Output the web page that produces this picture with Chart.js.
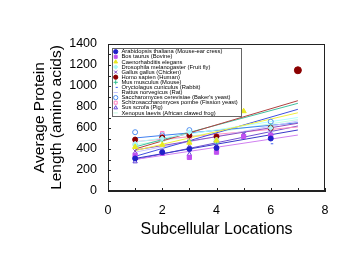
<!DOCTYPE html>
<html>
<head>
<meta charset="utf-8">
<script src="https://cdn.jsdelivr.net/npm/chart.js@4/dist/chart.umd.min.js"></script>
<style>
html,body{margin:0;padding:0;background:#fff;}
#wrap{width:358px;height:277px;position:relative;}
</style>
</head>
<body>
<div id="wrap"><canvas id="c" width="358" height="277"></canvas></div>
<script>
// ---- data ----
const xLocations = [1, 2, 3, 4, 5, 6, 7];
const speciesNames = [
  'Arabidopsis thaliana (Mouse-ear cress)',
  'Bos taurus (Bovine)',
  'Caenorhabditis elegans',
  'Drosophila melanogaster (Fruit fly)',
  'Gallus gallus (Chicken)',
  'Homo sapien (Human)',
  'Mus musculus (Mouse)',
  'Oryctolagus cuniculus (Rabbit)',
  'Rattus norvegicus (Rat)',
  "Saccharomyces cerevisiae (Baker's yeast)",
  'Schizosaccharomyces pombe (Fission yeast)',
  'Sus scrofa (Pig)',
  'Xenopus laevis (African clawed frog)'
];
const arabidopsis   = [310, 370, 400, 410, null, 500, null];
const bosTaurus     = [340, 360, 320, 370, 520, 530, null];
const cElegans      = [420, 440, 460, 480, 760, null, null];
const drosophila    = [450, 500, 560, 490, null, 600, null];
const gallus        = [380, 380, 440, 430, 540, 560, null];
const homoSapien    = [490, 510, 530, 520, null, 600, 1150];
const musMusculus   = [440, 490, 480, 470, 520, 620, 1150];
const oryctolagus   = [300, 370, 420, 410, 560, 450, null];
const rattus        = [360, 400, 410, 380, 500, 560, null];
const saccharomyces = [560, 530, 580, 470, null, 660, null];
const schizo        = [470, 550, 510, 500, null, 600, null];
const susScrofa     = [280, 370, 350, 430, 530, 590, null];
const xenopus       = [430, 470, 490, 460, null, 570, null];
const seriesValues = [arabidopsis, bosTaurus, cElegans, drosophila, gallus, homoSapien,
  musMusculus, oryctolagus, rattus, saccharomyces, schizo, susScrofa, xenopus];
// fitted trend lines, value at x=1 and at x=7
const fitX = [1, 7];
const fitAtX1 = [310, 300, 385, 465, 390, 400, 420, 330, 370, 505, 470, 300, 440];
const fitAtX7 = [581, 533, 745, 700, 645, 860, 835, 778, 667, 650, 610, 619, 680];
const yTickLabels = [0, 200, 400, 600, 800, 1000, 1200, 1400];
const xTickLabels = [0, 2, 4, 6, 8];

// ---- styles ----
const colors = ['#2020c8', '#c050f0', '#e8e820', '#a8f8f8', '#8040c0', '#8b0000',
  '#30c090', '#4060f0', '#c4c4ff', '#5090f0', '#ff80c0', '#6040d8', '#c0f8e0'];
const lineColors = ['#3838c8', '#d080f0', '#f0f040', '#b0ffff', '#9050c0', '#b04040',
  '#40c0a0', '#4050e0', '#c8c8ff', '#4080f0', '#ff90c0', '#7050d0', '#c0ffe0'];
const styles = ['circle', 'rect', 'triangle', 'rectRot', 'crossRot', 'circle', 'cross',
  'dash', 'line', 'circle', 'rect', 'triangle', 'line'];
const filled = [true, true, true, true, false, true, false, false, false, false, false, false, false];
const radii = [2.5, 3, 3, 2.5, 2.5, 2.5, 2.5, 2.5, 2.5, 2.5, 2.5, 2.5, 2.5];

const FONT = "'Liberation Sans', Arial, Helvetica, sans-serif";
const N = speciesNames.length;
const datasets = [];
speciesNames.forEach((name, i) => {
  const pts = [];
  xLocations.forEach((x, k) => { if (seriesValues[i][k] != null) pts.push({x: x, y: seriesValues[i][k]}); });
  datasets.push({
    type: 'scatter', label: name, data: pts, order: 0,
    pointStyle: styles[i],
    pointRadius: (ctx) => (ctx.raw && ctx.raw.x === 7 && i === 5) ? 3.5 : radii[i],
    backgroundColor: filled[i] ? colors[i] : 'rgba(0,0,0,0)',
    borderColor: colors[i], pointBorderWidth: 1, borderWidth: 1, showLine: false
  });
});
speciesNames.forEach((name, i) => {
  datasets.push({
    type: 'line', label: name + ' fit', order: 1,
    data: [{x: fitX[0], y: fitAtX1[i]}, {x: fitX[1], y: fitAtX7[i]}],
    borderColor: lineColors[i], borderWidth: 1, pointRadius: 0, fill: false, tension: 0
  });
});

const LEG_FONT = 5.8, LEG_PAD = -0.7;
const framePlugin = {
  id: 'frame',
  afterLayout(chart) {
    chart.legend.left = chart.chartArea.left + 5.5;
    chart.legend.top = chart.chartArea.top + 5.5;
  },
  afterDatasetsDraw(chart) {
    const ctx = chart.ctx, a = chart.chartArea;
    const xs = chart.scales.x, ys = chart.scales.y;
    ctx.save();
    const lg = chart.legend;
    const hb = lg.legendHitBoxes || [];
    let w = 0; hb.forEach(h => { w = Math.max(w, h.width); });
    const bx = Math.round(lg.left) - 1.5, by = Math.round(lg.top) - 1.5;
    const bw = Math.round(w) + 4, bh = Math.round(hb.length * (LEG_FONT + LEG_PAD)) + 2;
    ctx.fillStyle = '#fff';
    ctx.fillRect(bx, by, bw, bh);
    ctx.restore();
    lg._draw();
    ctx.save();
    ctx.strokeStyle = '#666';
    ctx.lineWidth = 1;
    ctx.strokeRect(bx, by, bw, bh);
    ctx.strokeStyle = '#222';
    ctx.beginPath();
    for (let v = 0; v <= 1400; v += 100) {
      const p = Math.round(ys.getPixelForValue(v)) + 0.5;
      ctx.moveTo(a.left, p); ctx.lineTo(a.left + 3, p);
    }
    for (let v = 0; v <= 8; v += 1) {
      const p = Math.round(xs.getPixelForValue(v)) + 0.5;
      ctx.moveTo(p, a.bottom); ctx.lineTo(p, a.bottom - 3);
    }
    ctx.stroke();
    ctx.strokeRect(Math.round(a.left) + 0.5, Math.round(a.top) + 0.5,
      Math.round(a.right - a.left) - 1, Math.round(a.bottom - a.top) - 1);
    ctx.restore();
  }
};

new Chart(document.getElementById('c'), {
  type: 'scatter',
  data: { datasets: datasets },
  options: {
    responsive: false, animation: false, devicePixelRatio: 1,
    layout: { padding: { left: 0, top: 44, right: 33, bottom: 0 } },
    plugins: {
      tooltip: { enabled: false },
      legend: {
        position: 'chartArea', align: 'start',
        labels: {
          filter: (item) => item.datasetIndex < N,
          usePointStyle: true, boxHeight: 3, padding: LEG_PAD,
          color: '#000', font: { family: FONT, size: LEG_FONT }
        }
      }
    },
    scales: {
      x: {
        type: 'linear', min: 0, max: 8,
        afterBuildTicks: (s) => { s.ticks = xTickLabels.map(v => ({value: v})); },
        afterFit: (s) => { s.height = 86; },
        grid: { display: false, drawTicks: false },
        border: { display: true, color: '#222', width: 1 },
        ticks: { color: '#000', padding: 12, font: { family: FONT, size: 12.5 }, maxRotation: 0,
          callback: (v) => String(v) },
        title: { display: true, text: 'Subcellular Locations', color: '#000',
          font: { family: FONT, size: 16, lineHeight: 1.1 }, padding: { top: 0, bottom: 39 } }
      },
      y: {
        type: 'linear', min: 0, max: 1400,
        afterBuildTicks: (s) => { s.ticks = yTickLabels.map(v => ({value: v})); },
        afterFit: (s) => { s.width = 108; },
        grid: { display: false, drawTicks: false },
        border: { display: true, color: '#222', width: 1 },
        ticks: { color: '#000', padding: 11, font: { family: FONT, size: 12.5 },
          callback: (v) => String(v) },
        title: { display: true, text: ['Average Protein', 'Length (amino acids)'], color: '#000',
          font: { family: FONT, size: 15.5, lineHeight: 1.1 }, padding: { top: 31, bottom: 0 } }
      }
    }
  },
  plugins: [framePlugin]
});
</script>
</body>
</html>
